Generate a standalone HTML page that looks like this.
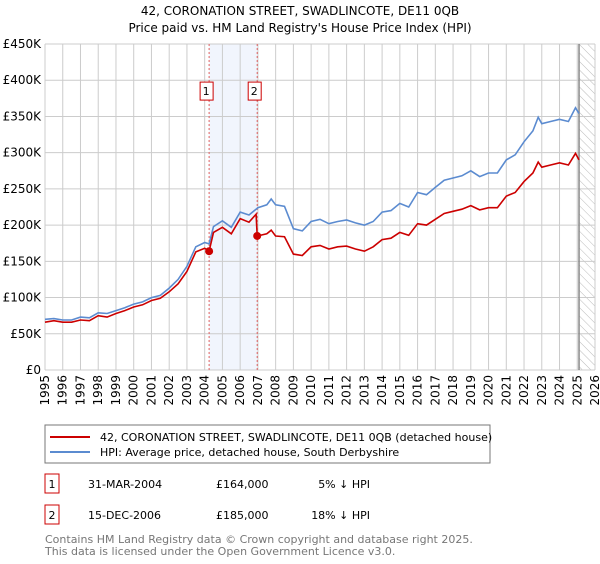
<!DOCTYPE html>
<html><head><meta charset="utf-8"><style>
body{margin:0;background:#fff;font-family:"DejaVu Sans","Liberation Sans",sans-serif;}
svg text{font-family:"DejaVu Sans","Liberation Sans",sans-serif;}
</style></head><body>
<svg width="600" height="560" viewBox="0 0 600 560">
<defs><pattern id="hatch" width="6" height="6" patternUnits="userSpaceOnUse" patternTransform="rotate(-45)"><line x1="0" y1="0" x2="0" y2="6" stroke="#bbb" stroke-width="1"/></pattern></defs>
<text x="300" y="15" text-anchor="middle" font-size="12">42, CORONATION STREET, SWADLINCOTE, DE11 0QB</text>
<text x="300" y="32" text-anchor="middle" font-size="12">Price paid vs. HM Land Registry's House Price Index (HPI)</text>
<g id="grid"></g><g id="marks"></g>
<rect x="45" y="425" width="445" height="38" fill="#fff" stroke="#777"/>
<line x1="50" y1="437" x2="90" y2="437" stroke="#cc0000" stroke-width="2"/>
<text x="100" y="441" font-size="11">42, CORONATION STREET, SWADLINCOTE, DE11 0QB (detached house)</text>
<line x1="50" y1="452" x2="90" y2="452" stroke="#5b8bd0" stroke-width="2"/>
<text x="100" y="456" font-size="11">HPI: Average price, detached house, South Derbyshire</text>
<rect x="45" y="474" width="14" height="19" fill="#fff" stroke="#cc0000"/>
<text x="52" y="488" font-size="11" text-anchor="middle">1</text>
<text x="88" y="488" font-size="11">31-MAR-2004</text>
<text x="216" y="488" font-size="11">£164,000</text>
<text x="370" y="488" font-size="11" text-anchor="end">5% ↓ HPI</text>
<rect x="45" y="505" width="14" height="19" fill="#fff" stroke="#cc0000"/>
<text x="52" y="519" font-size="11" text-anchor="middle">2</text>
<text x="88" y="519" font-size="11">15-DEC-2006</text>
<text x="216" y="519" font-size="11">£185,000</text>
<text x="370" y="519" font-size="11" text-anchor="end">18% ↓ HPI</text>
<text x="45" y="543" font-size="11" fill="#777">Contains HM Land Registry data © Crown copyright and database right 2025.</text>
<text x="45" y="555" font-size="11" fill="#777">This data is licensed under the Open Government Licence v3.0.</text>
</svg>
<script>
const hpiYears=[1995,1995.5,1996,1996.5,1997,1997.5,1998,1998.5,1999,1999.5,2000,2000.5,2001,2001.5,2002,2002.5,2003,2003.5,2004,2004.25,2004.5,2005,2005.5,2006,2006.5,2007,2007.5,2007.75,2008,2008.5,2009,2009.5,2010,2010.5,2011,2011.5,2012,2012.5,2013,2013.5,2014,2014.5,2015,2015.5,2016,2016.5,2017,2017.5,2018,2018.5,2019,2019.5,2020,2020.5,2021,2021.5,2022,2022.5,2022.8,2023,2023.5,2024,2024.5,2024.9,2025.1];
const hpiValues=[70,71,69,69,73,72,79,78,82,86,91,94,100,103,113,125,143,170,176,174,198,206,197,218,214,224,228,236,228,226,195,192,205,208,202,205,207,203,200,205,218,220,230,225,245,242,252,262,265,268,275,267,272,272,290,297,315,330,349,340,343,346,343,362,354];
const redYears=[1995,1995.5,1996,1996.5,1997,1997.5,1998,1998.5,1999,1999.5,2000,2000.5,2001,2001.5,2002,2002.5,2003,2003.5,2004,2004.25,2004.5,2005,2005.5,2006,2006.5,2006.9,2006.96,2007.5,2007.75,2008,2008.5,2009,2009.5,2010,2010.5,2011,2011.5,2012,2012.5,2013,2013.5,2014,2014.5,2015,2015.5,2016,2016.5,2017,2017.5,2018,2018.5,2019,2019.5,2020,2020.5,2021,2021.5,2022,2022.5,2022.8,2023,2023.5,2024,2024.5,2024.9,2025.1];
const redValues=[66,68,66,66,69,68,75,73,78,82,87,90,96,99,108,119,136,163,168,164,190,197,188,209,204,215,185,188,193,185,184,160,158,170,172,167,170,171,167,164,170,180,182,190,186,202,200,208,216,219,222,227,221,224,224,240,245,260,272,287,280,283,286,283,299,290];
const sales=[[2004.25,164000,'1'],[2006.96,185000,'2']];
const yTicks=[0,50,100,150,200,250,300,350,400,450];
const xTicks=[1995,1996,1997,1998,1999,2000,2001,2002,2003,2004,2005,2006,2007,2008,2009,2010,2011,2012,2013,2014,2015,2016,2017,2018,2019,2020,2021,2022,2023,2024,2025,2026];
const L=45,R=595,T=44,B=370,NS='http://www.w3.org/2000/svg';
const X=t=>L+(t-1995)/31*(R-L), Y=v=>B-v/450*(B-T);
const grid=document.getElementById('grid'),marks=document.getElementById('marks');
function mk(tag,attrs,parent,text){const e=document.createElementNS(NS,tag);for(const k in attrs)e.setAttribute(k,attrs[k]);if(text!==undefined)e.textContent=text;parent.appendChild(e);return e;}
const sh=mk('rect',{x:X(2004.25),y:T,width:X(2006.96)-X(2004.25),height:B-T,fill:'#f1f5fd'},grid);


const ht=mk('rect',{x:X(2025.1),y:T,width:R-X(2025.1),height:B-T,fill:'url(#hatch)'},grid);


yTicks.forEach(v=>{mk('line',{x1:L,x2:R,y1:Y(v),y2:Y(v),stroke:'#ccc'},grid);
const t=mk('text',{x:L-4,y:Y(v)+4,'text-anchor':'end','font-size':'12'},grid,v===0?'£0':'£'+v+'K');

});
xTicks.forEach(yr=>{mk('line',{x1:X(yr),x2:X(yr),y1:T,y2:B,stroke:'#ccc'},grid);
const t=mk('text',{x:0,y:0,'text-anchor':'end','font-size':'12',transform:`translate(${X(yr)+4},${B+5}) rotate(-90)`},grid,String(yr));

});
mk('line',{x1:X(2025.1),x2:X(2025.1),y1:T,y2:B,stroke:'#888','stroke-width':1.5},grid);
sales.forEach(s=>{const l=mk('line',{x1:X(s[0]),x2:X(s[0]),y1:T,y2:B,stroke:'#e06060','stroke-dasharray':'2,2'},grid);

});
function path(xs,vs,col,name){const d=xs.map((t,i)=>(i?'L':'M')+X(t).toFixed(1)+','+Y(vs[i]).toFixed(1)).join('');
const p=mk('path',{d:d,fill:'none',stroke:col,'stroke-width':1.6},marks);

}
path(hpiYears,hpiValues,'#5b8bd0','hpi-line');
path(redYears,redValues,'#cc0000','price-paid-line');
sales.forEach(s=>{const c=mk('circle',{cx:X(s[0]),cy:Y(s[1]/1000),r:4,fill:'#cc0000'},marks);


const bx=X(s[0])-3,by=Y(385);
const r=mk('rect',{x:bx-6,y:by-9,width:13,height:18,fill:'#fff',stroke:'#cc0000'},marks);


mk('text',{x:bx,y:by+4,'text-anchor':'middle','font-size':'11'},marks,s[2]);});
</script>
</body></html>
